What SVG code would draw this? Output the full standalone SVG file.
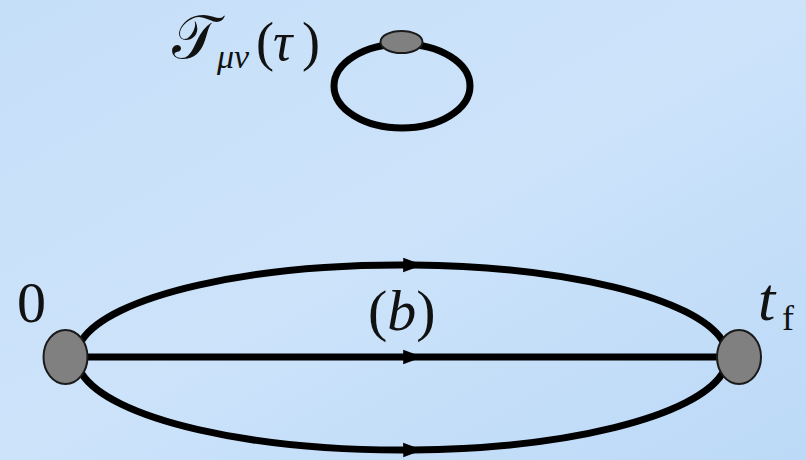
<svg xmlns="http://www.w3.org/2000/svg" width="806" height="460" viewBox="0 0 806 460">
<defs>
<linearGradient id="bg" x1="0" y1="0" x2="1" y2="1">
<stop offset="0" stop-color="#c6dff8"/>
<stop offset="0.5" stop-color="#cce3fa"/>
<stop offset="1" stop-color="#bcd9f7"/>
</linearGradient>
<marker id="arr" viewBox="0 0 10 10" refX="5" refY="5" markerWidth="2.8" markerHeight="2.8" orient="auto" markerUnits="strokeWidth">
<path d="M0,1.3 L10,5 L0,8.7 z" fill="#000"/>
</marker>
<style>
.line{fill:none;stroke:#000;stroke-width:7;stroke-linecap:round}
.node{fill:#808080;stroke:#1a1a1a;stroke-width:2}
.lbl{font-family:"Liberation Serif","DejaVu Serif",serif;fill:#111}
</style>
</defs>
<rect width="806" height="460" fill="url(#bg)"/>
<g id="connectors">
<path class="line" d="M82 340 A325 92 0 0 1 413 265 A325 92 0 0 1 722 340" marker-mid="url(#arr)"/>
<path class="line" d="M88 357 L413 357 L717 357" marker-mid="url(#arr)"/>
<path class="line" d="M82 374 A325 93 0 0 0 413 450 A325 93 0 0 0 722 374" marker-mid="url(#arr)"/>
<ellipse class="line" cx="402" cy="86" rx="68" ry="42"/>
</g>
<g id="loop-vertex">
<ellipse class="node" cx="401.5" cy="42" rx="21" ry="11"/>
<text class="lbl" x="172" y="58" font-size="60">𝒯</text>
<text class="lbl" x="217" y="68" font-size="34" font-style="italic">μν</text>
<text class="lbl" x="256" y="60" font-size="54">(</text>
<text class="lbl" x="273" y="60" font-size="54" font-style="italic">τ</text>
<text class="lbl" x="302" y="60" font-size="54">)</text>
</g>
<g id="node-0">
<ellipse class="node" cx="65.5" cy="357" rx="22" ry="27"/>
<text class="lbl" x="17" y="322" font-size="58">0</text>
</g>
<g id="node-tf">
<ellipse class="node" cx="739" cy="357" rx="22" ry="27"/>
<text class="lbl" x="758" y="320" font-size="62" font-style="italic">t</text>
<text class="lbl" x="782" y="330" font-size="36">f</text>
</g>
<g id="label-b">
<text class="lbl" x="368" y="330" font-size="58">(<tspan font-style="italic">b</tspan>)</text>
</g>
</svg>
